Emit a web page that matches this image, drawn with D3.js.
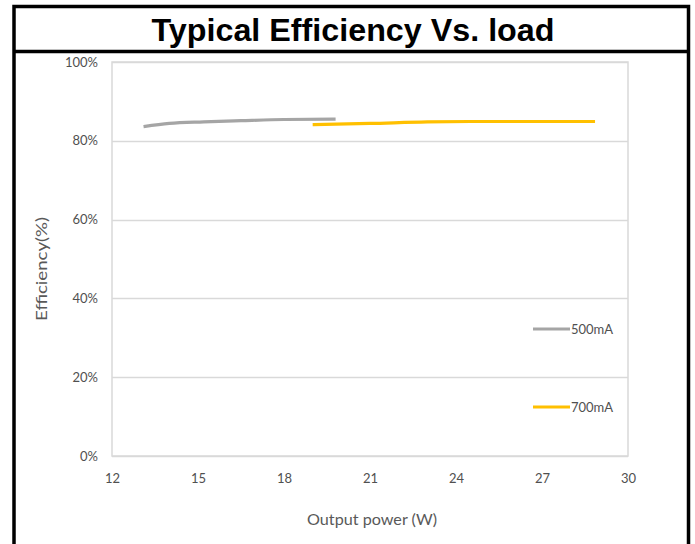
<!DOCTYPE html>
<html>
<head>
<meta charset="utf-8">
<script src="https://cdn.jsdelivr.net/npm/d3@7"></script>
<style>
  html, body { margin: 0; padding: 0; background: #fff; }
  svg { display: block; }
</style>
</head>
<body>
<svg id="chart" width="695" height="544"></svg>
<script>
const titleText = "Typical Efficiency Vs. load";
const xLabel = "Output power (W)";
const yLabel = "Efficiency(%)";
const xTicks = [12, 15, 18, 21, 24, 27, 30];
const yTicks = [0, 20, 40, 60, 80, 100];
const seriesNames = ["500mA", "700mA"];
const seriesColors = ["#A5A5A5", "#FFC000"];
const power500 = [13.1, 14.0, 15.2, 16.5, 18.0, 19.8];
const eff500 = [83.6, 84.4, 84.8, 85.1, 85.4, 85.5];
const power700 = [19.0, 21.0, 23.0, 24.5, 27.0, 28.85];
const eff700 = [84.1, 84.4, 84.8, 84.9, 84.9, 84.9];

const svg = d3.select("#chart");

// outer frame
svg.append("rect").attr("x", 14).attr("y", 6.5).attr("width", 674.5).attr("height", 560)
  .attr("fill", "none").attr("stroke", "#000").attr("stroke-width", 3.5);
svg.append("line").attr("x1", 14).attr("x2", 688.5).attr("y1", 51.5).attr("y2", 51.5)
  .attr("stroke", "#000").attr("stroke-width", 3.5);

svg.append("text").attr("x", 353).attr("y", 41).attr("text-anchor", "middle")
  .attr("font-family", "Liberation Sans, Arial, sans-serif").attr("font-weight", "bold")
  .attr("font-size", 31).attr("textLength", 403).attr("lengthAdjust", "spacingAndGlyphs")
  .attr("fill", "#000").text(titleText);

const pL = 112, pR = 628, pT = 62, pB = 456;
const x = d3.scaleLinear().domain([12, 30]).range([pL, pR]);
const y = d3.scaleLinear().domain([0, 100]).range([pB, pT]);

const font = "Lato, 'Open Sans', sans-serif";
const labelColor = "#595959";

// gridlines
svg.append("g").selectAll("line").data(yTicks).join("line")
  .attr("x1", pL).attr("x2", pR)
  .attr("y1", d => Math.round(y(d)) + 0.5).attr("y2", d => Math.round(y(d)) + 0.5)
  .attr("stroke", "#D9D9D9").attr("stroke-width", 1.5);
// plot border
svg.append("rect").attr("x", pL).attr("y", pT).attr("width", pR - pL).attr("height", pB - pT)
  .attr("fill", "none").attr("stroke", "#D9D9D9").attr("stroke-width", 1.5);

// y axis labels
const yAxis = d3.axisLeft(y).tickValues(yTicks).tickFormat(d => d + "%").tickSize(0).tickPadding(14);
const gy = svg.append("g").attr("transform", `translate(${pL},0)`).call(yAxis);
gy.select(".domain").remove();
gy.selectAll("text").attr("font-family", font).attr("font-size", 13).attr("fill", "#505050");

// x axis labels
const xAxis = d3.axisBottom(x).tickValues(xTicks).tickSize(0).tickPadding(18);
const gx = svg.append("g").attr("transform", `translate(0,${pB})`).call(xAxis);
gx.select(".domain").remove();
gx.selectAll("text").attr("font-family", font).attr("font-size", 13).attr("fill", "#505050");

// axis titles
svg.append("text").attr("x", 372).attr("y", 525).attr("text-anchor", "middle")
  .attr("font-family", font).attr("font-size", 16).attr("textLength", 130)
  .attr("lengthAdjust", "spacingAndGlyphs").attr("fill", labelColor).text(xLabel);
svg.append("text").attr("transform", "translate(47,269) rotate(-90)").attr("text-anchor", "middle")
  .attr("font-family", font).attr("font-size", 16).attr("textLength", 104)
  .attr("lengthAdjust", "spacingAndGlyphs").attr("fill", labelColor).text(yLabel);

// lines
const line = d3.line().x(d => x(d[0])).y(d => y(d[1])).curve(d3.curveMonotoneX);
const data = [d3.zip(power500, eff500), d3.zip(power700, eff700)];
svg.append("g").selectAll("path").data(data).join("path")
  .attr("d", line).attr("fill", "none")
  .attr("stroke", (d, i) => seriesColors[i]).attr("stroke-width", 3.2).attr("stroke-linecap", "butt");

// legend
const legendY = [329, 407];
const lg = svg.append("g").selectAll("g").data(seriesNames).join("g")
  .attr("transform", (d, i) => `translate(533,${legendY[i]})`);
lg.append("line").attr("x1", 0).attr("x2", 37).attr("y1", 0).attr("y2", 0)
  .attr("stroke", (d, i) => seriesColors[i]).attr("stroke-width", 3);
lg.append("text").attr("x", 38).attr("y", 4.5).attr("font-family", font).attr("font-size", 13)
  .attr("fill", "#505050").text(d => d);
</script>
</body>
</html>
